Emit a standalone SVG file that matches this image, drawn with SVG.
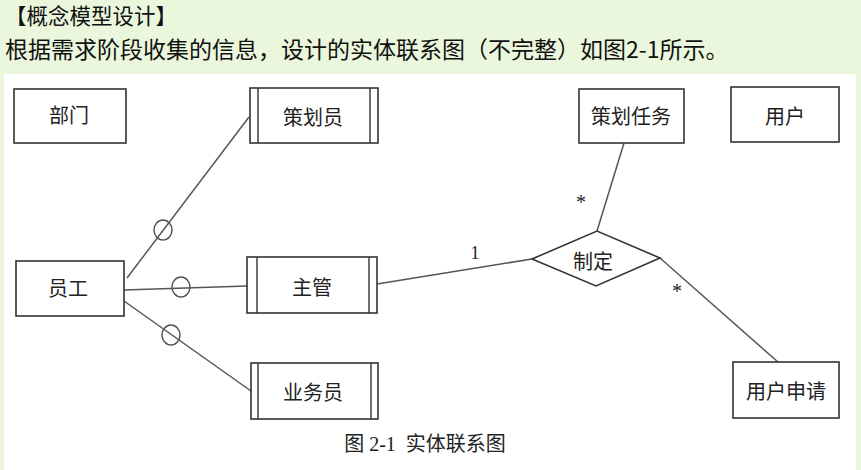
<svg xmlns="http://www.w3.org/2000/svg" width="861" height="470" viewBox="0 0 861 470">
<style>
.hdr{font-family:"Noto Sans CJK SC",sans-serif;fill:#111}
.box{fill:#fff;stroke:#333;stroke-width:1.6}
.inner{stroke:#333;stroke-width:1.4}
.lbl{font-family:"Noto Sans CJK SC",sans-serif;font-size:20px;fill:#222;text-anchor:middle}
.conn{stroke:#555;stroke-width:1.5;fill:none}
.mark{fill:none;stroke:#555;stroke-width:1.5}
.card{font-family:"Liberation Serif","Noto Sans CJK SC",serif;fill:#222;text-anchor:middle}
</style>
<rect x="0" y="0" width="861" height="470" fill="#EBF7DD"/>
<rect x="4" y="74" width="852" height="396" fill="#fff"/>
<text class="hdr" x="5" y="24" font-size="21.5">【概念模型设计】</text>
<text class="hdr" x="5" y="58" font-size="23">根据需求阶段收集的信息，设计的实体联系图（不完整）如图2-1所示。</text>

<g id="connectors">
<line class="conn" x1="127" y1="278" x2="249" y2="117"/>
<ellipse class="mark" cx="163" cy="230" rx="9" ry="10"/>
<line class="conn" x1="124" y1="290" x2="247" y2="286"/>
<ellipse class="mark" cx="181" cy="287" rx="9" ry="10"/>
<line class="conn" x1="124" y1="301" x2="251" y2="391"/>
<ellipse class="mark" cx="171" cy="335" rx="9" ry="10"/>
<line class="conn" x1="377" y1="284" x2="532" y2="259"/>
<line class="conn" x1="624" y1="143" x2="597" y2="231"/>
<line class="conn" x1="660" y1="258" x2="778" y2="362"/>
<text class="card" x="475" y="259" font-size="18">1</text>
<text class="card" x="581" y="209" font-size="20">*</text>
<text class="card" x="677" y="298" font-size="20">*</text>
</g>

<g id="node-bumen">
<rect class="box" x="14" y="89" width="112" height="54"/>
<text class="lbl" x="69" y="123">部门</text>
</g>
<g id="node-cehuayuan">
<rect class="box" x="250" y="88" width="128" height="55"/>
<line class="inner" x1="258" y1="88" x2="258" y2="143"/>
<line class="inner" x1="370" y1="88" x2="370" y2="143"/>
<text class="lbl" x="313" y="125">策划员</text>
</g>
<g id="node-cehuarenwu">
<rect class="box" x="579" y="89" width="105" height="54"/>
<text class="lbl" x="631" y="124">策划任务</text>
</g>
<g id="node-yonghu">
<rect class="box" x="731" y="87" width="108" height="55"/>
<text class="lbl" x="785" y="124">用户</text>
</g>
<g id="node-yuangong">
<rect class="box" x="16" y="261" width="108" height="55"/>
<text class="lbl" x="68" y="296">员工</text>
</g>
<g id="node-zhuguan">
<rect class="box" x="247" y="257" width="130" height="56"/>
<line class="inner" x1="257" y1="257" x2="257" y2="313"/>
<line class="inner" x1="369" y1="257" x2="369" y2="313"/>
<text class="lbl" x="312" y="295">主管</text>
</g>
<g id="node-zhiding">
<polygon class="box" points="532,259 597,231 660,258 596,286"/>
<text class="lbl" x="593" y="269">制定</text>
</g>
<g id="node-yewuyuan">
<rect class="box" x="251" y="363" width="127" height="56"/>
<line class="inner" x1="258" y1="363" x2="258" y2="419"/>
<line class="inner" x1="371" y1="363" x2="371" y2="419"/>
<text class="lbl" x="313" y="400">业务员</text>
</g>
<g id="node-yonghushenqing">
<rect class="box" x="733" y="362" width="106" height="56"/>
<text class="lbl" x="786" y="399">用户申请</text>
</g>

<text x="425" y="451" font-size="20" text-anchor="middle" font-family="Liberation Serif, Noto Sans CJK SC, serif" fill="#222" style="white-space:pre" xml:space="preserve">图 2-1  实体联系图</text>
</svg>
